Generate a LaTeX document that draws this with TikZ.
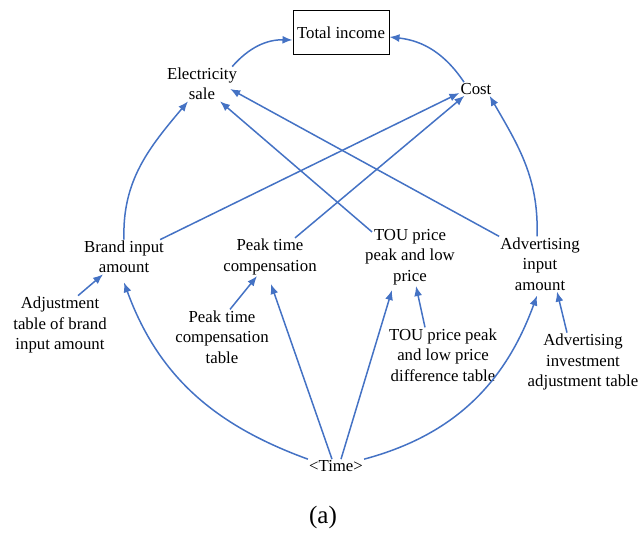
\documentclass[tikz,border=0pt]{standalone}
\usepackage{fontspec}
\setmainfont{Liberation Serif}
\usetikzlibrary{arrows.meta,positioning}
\definecolor{linkblue}{HTML}{4472C4}

\begin{document}
\begin{tikzpicture}[
x=1pt, y=1pt,
var/.style={
		align=center,
		inner sep=1pt,
		font=\fontsize{16.8}{20.5}\selectfont,
		},
link/.style={
		->, >={Latex[length=10pt,width=8pt]},
		draw=linkblue,
		line width=1.5pt,
		}
]
\useasboundingbox (0,0) rectangle (639,534);

\node[var, draw=black, line width=1pt, minimum width=96pt, minimum height=44pt] (total) at (341,501) {Total income};
\node[var] (elec) at (202,450) {Electricity\\sale};
\node[var] (cost) at (476,445) {Cost};
\node[var] (brand) at (124,277) {Brand input\\amount};
\node[var] (peak) at (270,277) {Peak time\\compensation};
\node[var] (tou) at (410,277) {TOU price\\peak and low\\price};
\node[var] (adv) at (540,270) {Advertising\\input\\amount};
\node[var] (adjtab) at (60,209) {Adjustment\\table of brand\\input amount};
\node[var] (peaktab) at (222,197) {Peak time\\compensation\\table};
\node[var] (toutab) at (443,179) {TOU price peak\\and low price\\difference table};
\node[var] (advtab) at (583,172) {Advertising\\investment\\adjustment table};
\node[var] (time) at (336,68) {\textless Time\textgreater};
\node[font=\fontsize{25}{30}\selectfont] (caption) at (323,17) {(a)};

\draw[link] ([xshift=-6pt]elec.north east) to[bend left=25] ([yshift=-7pt]total.west);
\draw[link] ([xshift=-12pt]cost.north) to[bend right=25] ([yshift=-4pt]total.east);

\draw[link] (brand.north) to[out=92, in=-130] ([xshift=-14pt]elec.south);
\draw[link] ([xshift=-5pt]brand.north east) -- ([yshift=-4pt]cost.west);
\draw[link] ([xshift=25pt]peak.north) -- ([xshift=5pt]cost.south west);
\draw[link] ([xshift=8pt, yshift=-4pt]tou.north west) -- ([xshift=18pt]elec.south);
\draw[link] (adv.north west) -- ([xshift=-8pt, yshift=-5pt]elec.east);
\draw[link] ([xshift=-3pt]adv.north) to[out=88, in=-60] ([xshift=-3pt]cost.south east);

% tables feed the variables above them
\foreach \s/\sx/\t/\tx in {adjtab/18/brand/-21, peaktab/8/peak/-13, toutab/-18/tou/6, advtab/-16/adv/17}
{
  \draw[link] ([xshift=\sx pt]\s.north) -- ([xshift=\tx pt]\t.south);
}

\draw[link] (time.north west) to[out=160, in=-70] ([yshift=-8pt]brand.south);
\draw[link] ([xshift=-4pt]time.north) -- ([xshift=1pt, yshift=-8pt]peak.south);
\draw[link] ([xshift=5pt]time.north) -- ([xshift=-18pt, yshift=-4pt]tou.south);
\draw[link] (time.north east) to[out=15, in=-110] ([xshift=-3pt, yshift=-4pt]adv.south);

\end{tikzpicture}
\end{document}
